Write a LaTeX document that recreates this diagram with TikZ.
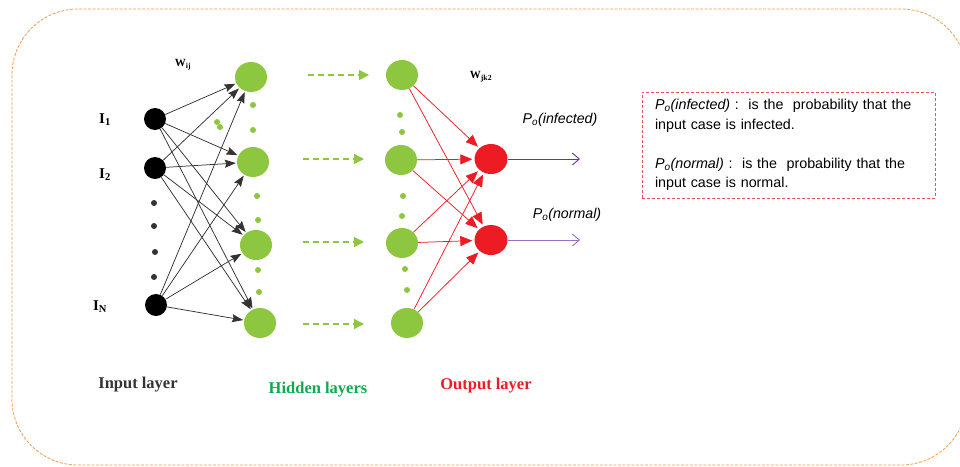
\documentclass[tikz,border=0pt]{standalone}
\usepackage{fontspec}
\setmainfont{Liberation Serif}
\newfontfamily\arial{Liberation Sans}
\usetikzlibrary{shapes.geometric,arrows.meta}
\definecolor{lgreen}{HTML}{8DC63F}
\definecolor{dred}{HTML}{ED1C24}
\definecolor{purp}{HTML}{7030A0}
\definecolor{lpurp}{HTML}{9B6FC0}
\definecolor{orng}{HTML}{F39A4C}
\definecolor{hgreen}{HTML}{0DAA4F}
\definecolor{boxred}{HTML}{E8505B}
\definecolor{dgray}{HTML}{333333}
\tikzset{
  inp/.style={circle, fill=black, minimum size=22pt, inner sep=0pt},
  hid/.style={ellipse, fill=lgreen, minimum width=32pt, minimum height=30pt, inner sep=0pt},
  outn/.style={ellipse, fill=dred, minimum width=33pt, minimum height=30pt, inner sep=0pt},
  gdot/.style={circle, fill=lgreen, minimum size=6pt, inner sep=0pt},
  bdot/.style={circle, fill=dgray, minimum size=6pt, inner sep=0pt},
  blk/.style={draw=dgray, line width=0.75pt, shorten >=1pt, -{Stealth[length=11pt,width=8pt,inset=1.5pt]}},
  red/.style={draw=dred, line width=0.75pt, shorten >=2pt, -{Triangle[length=12pt,width=10pt]}},
  gdash/.style={draw=lgreen, line width=1.4pt, dash pattern=on 6pt off 4pt, -{Triangle[length=10pt,width=10pt]}},
  pout/.style={line width=0.9pt, -{Straight Barb[length=7pt,width=12pt]}},
  ilab/.style={font=\fontsize{15}{15}\selectfont\bfseries, text=black},
  wlab/.style={font=\fontsize{11}{11}\selectfont\bfseries, text=black},
  plab/.style={font=\arial\fontsize{14.2}{15}\selectfont\itshape, text=black},
  laylab/.style={font=\fontsize{16.5}{16.5}\selectfont\bfseries}
}
\begin{document}
\begin{tikzpicture}[x=1pt,y=-1pt]
\useasboundingbox (0,0) rectangle (960,466);
\draw[orng, line width=0.8pt, dash pattern=on 3pt off 1.5pt, rounded corners=66pt] (12,9) rectangle (967,465);

% input layer
\node[inp] (i1) at (155,119) {};
\node[inp] (i2) at (155,168) {};
\node[inp] (iN) at (156,305) {};
\node[bdot] (b1) at (154,203) {};
\node[bdot] (b2) at (154,226) {};
\node[bdot] (b3) at (155,252) {};
\node[bdot] (b4) at (154,277) {};
\node[ilab] (li1) at (105,120) {I\textsubscript{1}};
\node[ilab] (li2) at (105,175) {I\textsubscript{2}};
\node[ilab] (liN) at (100,307) {I\textsubscript{N}};

% hidden layer 1
\node[hid] (h1) at (251,77) {};
\node[hid] (h2) at (253,162) {};
\node[hid] (h3) at (256,245) {};
\node[hid] (h4) at (260,323) {};
\node[gdot] (hd1) at (253,105) {};
\node[gdot] (hd2) at (253,130) {};
\node[gdot] (hd3) at (257,196) {};
\node[gdot] (hd4) at (258,220) {};
\node[gdot] (hd5) at (258,270) {};
\node[gdot] (hd6) at (259,292) {};
\node[gdot] (sd1) at (217,122) {};
\node[gdot] (sd2) at (220,127) {};
\node[wlab] (wij) at (183,65) {W\textsubscript{ij}};

% hidden layer 2
\node[hid] (g1) at (402,75) {};
\node[hid] (g2) at (401,160) {};
\node[hid] (g3) at (402,243) {};
\node[hid] (g4) at (407,323) {};
\node[gdot] (gd1) at (400,115) {};
\node[gdot] (gd2) at (402,132) {};
\node[gdot] (gd3) at (403,196) {};
\node[gdot] (gd4) at (402,216) {};
\node[gdot] (gd5) at (405,269) {};
\node[gdot] (gd6) at (407,290) {};
\node[wlab] (wjk) at (481,77) {W\textsubscript{jk2}};

% output layer
\node[outn] (o1) at (491,159) {};
\node[outn] (o2) at (491,240) {};
\coordinate (e1) at (580,159);
\coordinate (e2) at (580,240);
\node[plab] (pinf) at (560,120) {P\textsubscript{o}(infected)};
\node[plab] (pnor) at (567,215) {P\textsubscript{o}(normal)};

% dashed green arrows
\coordinate (d1s) at (308,75);  \coordinate (d1e) at (369,75);
\coordinate (d2s) at (303,159); \coordinate (d2e) at (364,159);
\coordinate (d3s) at (303,242); \coordinate (d3e) at (364,242);
\coordinate (d4s) at (303,324); \coordinate (d4e) at (364,324);
\draw[gdash] (d1s) -- (d1e);
\draw[gdash] (d2s) -- (d2e);
\draw[gdash] (d3s) -- (d3e);
\draw[gdash] (d4s) -- (d4e);

% input -> hidden
\foreach \a in {i1,i2,iN}
  \foreach \b in {h1,h2,h3,h4}
    \draw[blk] (\a) -- (\b);

% hidden -> output
\foreach \a in {g1,g2,g3,g4}
  \foreach \b in {o1,o2}
    \draw[red] (\a) -- (\b);

\draw[pout, purp] (o1) -- (e1);
\draw[pout, lpurp] (o2) -- (e2);

% legend box
\node[draw=boxred, line width=0.8pt, dash pattern=on 3pt off 2pt,
      minimum width=293pt, minimum height=106pt, inner xsep=13pt,
      text width=267pt, align=left,
      font=\arial\fontsize{14.3}{19.5}\selectfont] (box) at (788.5,145)
  {\textit{P\textsubscript{o}(infected)} :\ \ is the\ \ probability that the\\
   input case is infected.\\[19.5pt]
   \textit{P\textsubscript{o}(normal)} :\ \ is the\ \ probability that the\\
   input case is normal.};

% layer labels
\node[laylab, text=dgray] (lin) at (138,385) {Input layer};
\node[laylab, text=hgreen] (lhid) at (318,390) {Hidden layers};
\node[laylab, text=dred] (lout) at (486,386) {Output layer};
\end{tikzpicture}
\end{document}
